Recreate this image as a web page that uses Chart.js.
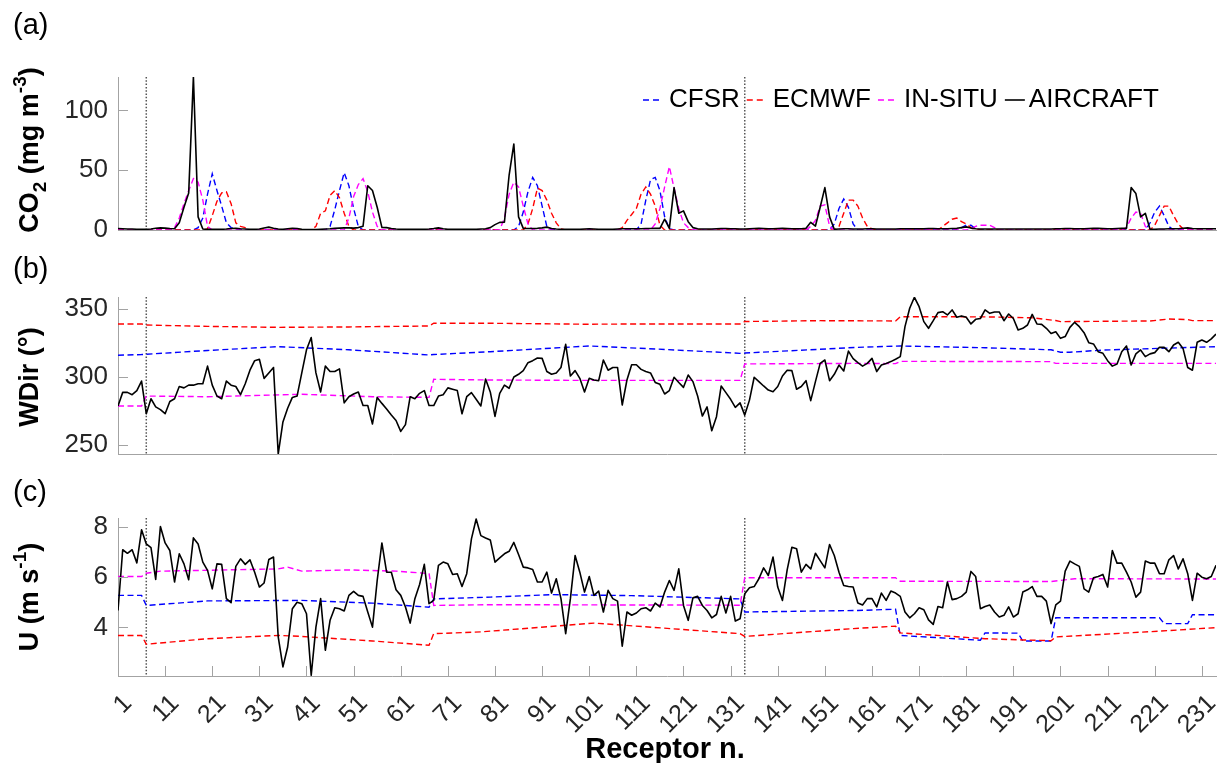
<!DOCTYPE html>
<html>
<head>
<meta charset="utf-8">
<script src="https://cdn.jsdelivr.net/npm/chart.js@4.4.1/dist/chart.umd.min.js"></script>
<style>
  html, body { margin: 0; padding: 0; background: #fff; }
  #wrap { position: relative; width: 1229px; height: 763px; overflow: hidden; }
  canvas { position: absolute; left: 0; }
</style>
</head>
<body>
<div id="wrap">
  <canvas id="co2" width="1229" height="240" style="top:0px"></canvas>
  <canvas id="wdir" width="1229" height="230" style="top:240px"></canvas>
  <canvas id="wind" width="1229" height="293" style="top:470px"></canvas>
</div>
<script>
// Three stacked panels: CO2, wind direction and wind speed per receptor.
// Model series are given as [receptor, value] break points, aircraft as one value per receptor.

const seriesNames = ["CFSR", "ECMWF", "IN-SITU", "AIRCRAFT"];
const receptorTicks = [1, 11, 21, 31, 41, 51, 61, 71, 81, 91, 101, 111, 121, 131, 141, 151, 161, 171, 181, 191, 201, 211, 221, 231];
const co2Ticks = [0, 50, 100];
const wdirTicks = [250, 300, 350];
const windTicks = [4, 6, 8];
const splitReceptors = [7, 134];

// (a) CO2 (mg m-3)
const co2Aircraft = [
  1.2, 1.0, 0.8, 0.8, 0.6, 0.6, 0.6, 0.8, 1.4, 1.8,
  1.6, 1.2, 1.0, 6, 19, 31, 128, 11, 0.8, 0.6,
  0.6, 0.6, 0.6, 0.8, 1.2, 1.4, 1.0, 0.8, 0.6, 0.6,
  0.8, 1.6, 2.4, 1.4, 0.8, 0.6, 1.0, 1.4, 1.2, 0.6,
  0.4, 0.4, 0.4, 0.6, 0.8, 1.0, 1.4, 1.6, 1.8, 1.8,
  1.6, 2.0, 3.2, 37, 33, 19, 2.2, 2.0, 1.2, 0.8,
  0.6, 0.6, 0.6, 0.6, 0.6, 0.6, 0.8, 1.2, 1.8, 1.0,
  0.6, 0.6, 0.6, 0.6, 0.6, 0.6, 0.6, 0.8, 1.0, 2.0,
  4.5, 6.4, 6.5, 46, 72, 11, 1.4, 1.2, 1.2, 1.4,
  1.8, 2.4, 1.2, 0.8, 0.6, 0.6, 0.6, 0.6, 0.6, 0.8,
  1.0, 0.8, 0.6, 0.6, 0.6, 0.6, 0.8, 1.0, 1.0, 1.0,
  1.0, 1.0, 1.2, 1.2, 1.4, 1.4, 9, 1.4, 35.5, 14,
  16, 7, 2, 1.0, 0.8, 0.8, 0.8, 1.0, 1.2, 1.2,
  1.0, 1.0, 0.8, 0.8, 1.0, 1.2, 1.4, 1.2, 1.0, 1.0,
  1.2, 1.4, 1.2, 1.0, 1.0, 1.0, 1.4, 6.4, 3.3, 19,
  35.5, 11, 0.6, 0.8, 1.0, 1.0, 0.8, 0.8, 0.8, 1.0,
  1.0, 0.8, 0.8, 0.8, 0.8, 0.8, 1.0, 1.0, 1.0, 1.0,
  1.0, 1.0, 1.2, 1.2, 1.0, 1.0, 1.0, 1.2, 1.4, 2.0,
  2.6, 1.6, 1.0, 0.8, 0.8, 0.8, 0.8, 0.8, 0.8, 0.8,
  0.8, 0.8, 0.8, 0.8, 0.8, 0.8, 0.8, 0.8, 0.8, 1.0,
  1.0, 1.2, 1.2, 1.0, 1.0, 1.0, 1.2, 1.4, 1.4, 1.2,
  1.0, 1.0, 1.2, 1.4, 1.4, 35.5, 30.5, 11, 14, 0.6,
  0.6, 0.8, 0.8, 1.0, 1.0, 1.0, 1.4, 1.8, 1.2, 1.0,
  1.0, 1.0, 1.0, 1.0
];
const co2Cfsr = [
  [1, 0], [17, 0], [18, 2], [19, 10], [20, 30], [21, 47], [22, 33], [23, 20], [24, 6], [25, 2], [26, 1], [27, 0],
  [45, 0], [46, 3], [47, 17], [48, 33], [49, 48], [50, 37], [51, 18], [52, 3], [53, 0],
  [85, 0], [86, 3], [87, 15], [88, 32], [89, 44], [90, 37], [91, 20], [92, 3], [93, 0],
  [111, 0], [112, 5], [113, 25], [114, 42], [115, 44], [116, 33], [117, 11], [118, 1], [119, 0],
  [152, 0], [153, 5], [154, 18], [155, 26], [156, 19], [157, 5], [158, 0],
  [179, 0], [180, 2], [181, 4], [182, 4], [183, 1], [184, 0],
  [219, 0], [220, 6], [221, 15], [222, 20], [223, 12], [224, 3], [225, 0], [234, 0]
];
const co2Ecmwf = [
  [1, 0], [19, 0], [20, 1], [21, 12], [22, 24], [23, 31], [24, 32], [25, 22], [26, 6], [27, 3], [28, 2], [29, 0],
  [42, 0], [43, 3], [44, 14], [45, 16], [46, 29], [47, 33], [48, 27], [49, 14], [50, 3], [51, 0],
  [87, 0], [88, 5], [89, 18], [90, 35], [91, 33], [92, 25], [93, 14], [94, 6], [95, 1], [96, 0],
  [107, 0], [108, 2], [109, 8], [110, 13], [111, 18], [112, 30], [113, 36], [114, 30], [115, 20], [116, 4], [117, 0],
  [153, 0], [154, 3], [155, 14], [156, 25], [157, 25], [158, 20], [159, 10], [160, 3], [161, 1], [162, 0],
  [175, 0], [176, 3], [177, 6], [178, 9], [179, 10], [180, 7], [181, 5], [182, 2], [183, 0],
  [220, 0], [221, 4], [222, 12], [223, 20], [224, 20], [225, 12], [226, 5], [227, 1], [228, 0], [234, 0]
];
const co2InSitu = [
  [1, 0], [12, 0], [13, 2], [14, 10], [15, 22], [16, 33], [17, 43], [18, 40], [19, 25], [20, 3], [21, 0],
  [49, 0], [50, 10], [51, 28], [52, 38], [53, 43], [54, 32], [55, 15], [56, 3], [57, 0],
  [82, 0], [83, 10], [84, 30], [85, 40], [86, 36], [87, 20], [88, 5], [89, 0],
  [114, 0], [115, 5], [116, 18], [117, 36], [118, 53], [119, 35], [120, 18], [121, 6], [122, 2], [123, 0],
  [147, 0], [148, 3], [149, 8], [150, 20], [151, 21], [152, 3], [153, 0],
  [181, 0], [182, 1], [183, 3], [184, 4], [185, 4], [186, 4], [187, 2], [188, 0],
  [214, 0], [215, 2], [216, 10], [217, 15], [218, 14], [219, 3], [220, 0], [234, 0]
];

// (b) WDir (deg)
const wdirAircraft = [
  278.7, 288.7, 288.7, 287, 290, 297, 273, 284, 278, 276,
  273, 282, 284, 293, 292, 294, 294, 295, 295, 308,
  294, 286, 284, 297, 294, 293, 287, 295, 305, 312,
  313, 299, 303, 307, 243.4, 267, 277, 285, 286, 303,
  320, 329, 303, 289, 308, 304, 304, 306, 281, 285.5,
  287.5, 289, 279, 279, 265.5, 285, 280.6, 276.5, 272, 268,
  260, 265, 285.5, 284, 288, 290, 279, 279, 286, 287,
  292, 291, 290, 273, 285.5, 288.5, 283.6, 278.7, 298.5, 289,
  271, 288, 294, 291.7, 300, 302, 304.7, 310.5, 312, 314,
  313.7, 304, 302, 303, 307, 324, 300.7, 304.7, 299, 289,
  299, 297.8, 297.3, 312.5, 305, 307, 307, 279.4, 297.8, 309,
  309, 305.6, 304, 303, 296, 294.6, 287.5, 290, 299.8, 296,
  292.4, 301.5, 296.6, 286, 271.3, 278, 260.5, 270.8, 293.4, 288.5,
  283.6, 277.7, 281, 272, 283, 299.8, 296.6, 293.4, 290.4, 289.2,
  293, 300.7, 305, 304.7, 291, 293, 297.3, 282.6, 296.6, 310,
  312.5, 297.3, 302, 308.8, 304.4, 319, 313.5, 310.5, 308, 310,
  313.7, 304, 308.8, 310, 311.3, 313, 315, 337, 350.5, 358.6,
  351.7, 340.7, 335.8, 341.4, 347.3, 348, 345.6, 349.3, 343.9, 344.9,
  343.9, 339, 342.4, 343, 349.3, 346.8, 347.8, 347.8, 341.4, 346.3,
  343, 334.6, 335.8, 338.2, 346, 339, 338.7, 335.8, 332, 333.3,
  328.4, 329.7, 336.5, 340.2, 337, 332.6, 325.2, 324.3, 318.6, 317.4,
  312, 308, 309.6, 318.6, 322.8, 308.8, 317, 319.9, 315, 317,
  317.9, 321.8, 321.8, 318.6, 323.5, 325.5, 321, 307, 305, 325.5,
  327.2, 325.5, 328, 331.6
];
const wdirCfsr = [
  [1, 316], [6, 316.5], [7, 316.7], [20, 319.5], [35, 322.3], [50, 320], [67, 316.2], [68, 316.5], [80, 318.6],
  [101, 322.8], [115, 320.6], [133, 317.4], [134, 317.6], [158, 321.8], [167, 322.8], [185, 321.5], [199, 320],
  [201, 318.2], [203, 318.2], [210, 319.8], [234, 322.3]
];
const wdirEcmwf = [
  [1, 339], [6, 339], [7, 338.2], [20, 337.2], [35, 336.5], [50, 336.8], [67, 337.5], [68, 339.5], [80, 339.5],
  [100, 338.8], [115, 339], [133, 339], [134, 340.8], [150, 341.4], [166, 341.2], [167, 344.3], [185, 344.2],
  [195, 343.5], [200, 341.5], [201, 340.7], [220, 341.2], [224, 342.6], [228, 342.2], [229, 341.4], [234, 341.4]
];
const wdirInSitu = [
  [1, 278.7], [6, 278.7], [7, 286], [20, 285.5], [40, 287.3], [55, 285.5], [67, 285], [68, 298.3], [80, 297.8],
  [100, 297.5], [133, 297.5], [134, 309.6], [158, 310], [166, 309.8], [167, 311.5], [199, 311.3], [200, 310], [234, 310]
];

// (c) U (m s-1)
const windAircraft = [
  4.67, 7.08, 6.94, 7.08, 6.56, 7.87, 7.31, 7.16, 5.9, 8.0,
  7.35, 7.05, 5.8, 6.92, 6.52, 5.89, 7.55, 7.31, 6.59, 6.26,
  5.53, 6.52, 6.5, 5.14, 4.98, 6.42, 6.72, 6.5, 6.68, 6.19,
  5.6, 5.76, 6.69, 6.79, 3.62, 2.43, 3.22, 4.74, 5.0, 4.94,
  4.54, 2.1, 4.01, 5.14, 3.09, 4.28, 4.78, 4.74, 4.65, 5.27,
  5.43, 5.27, 5.23, 4.61, 4.01, 5.86, 7.35, 6.19, 6.19, 5.49,
  5.27, 4.81, 4.17, 5.14, 5.7, 6.5, 4.94, 5.07, 6.46, 6.59,
  6.52, 6.1, 6.13, 5.62, 6.13, 7.51, 8.3, 7.64, 7.55, 7.47,
  6.59, 6.76, 6.92, 7.02, 7.37, 6.89, 6.39, 6.36, 6.3, 5.8,
  5.8, 6.19, 5.36, 5.93, 5.14, 3.75, 5.14, 6.85, 6.19, 5.4,
  6.02, 5.27, 5.44, 4.61, 5.47, 5.14, 5.04, 3.25, 4.61, 4.48,
  4.57, 4.74, 4.78, 4.65, 4.96, 4.81, 5.4, 5.86, 5.47, 6.32,
  4.87, 4.28, 5.17, 5.23, 4.87, 4.67, 4.38, 4.51, 5.23, 4.57,
  5.23, 4.25, 4.34, 5.33, 5.57, 5.62, 5.93, 6.36, 6.06, 6.79,
  5.6, 5.07, 6.28, 7.18, 7.12, 6.19, 6.5, 6.32, 6.94, 6.65,
  6.36, 7.29, 6.85, 6.19, 5.66, 5.62, 5.6, 4.97, 4.89, 5.14,
  5.14, 4.81, 5.36, 5.07, 5.44, 5.36, 5.23, 4.61, 4.38, 4.54,
  4.78, 4.7, 4.3, 4.12, 4.83, 4.78, 5.8, 5.1, 5.14, 5.23,
  5.4, 6.22, 6.02, 4.74, 4.83, 4.89, 4.61, 4.41, 4.48, 4.81,
  4.41, 4.54, 5.4, 5.49, 5.62, 5.23, 5.23, 5.04, 4.15, 4.89,
  5.04, 6.23, 6.63, 6.52, 6.42, 5.53, 5.4, 5.97, 6.02, 6.1,
  5.6, 7.05, 6.55, 6.55, 6.19, 5.8, 5.2, 5.4, 6.63, 6.55,
  6.55, 6.13, 6.13, 6.68, 6.85, 6.32, 6.72, 6.13, 5.07, 6.15,
  5.99, 5.93, 6.02, 6.46
];
const windCfsr = [
  [1, 5.27], [6, 5.27], [7, 4.87], [20, 5.05], [40, 5.07], [55, 4.96], [67, 4.8], [68, 5.13], [80, 5.2], [93, 5.3],
  [110, 5.26], [133, 5.13], [134, 4.61], [158, 4.67], [166, 4.72], [167, 3.68], [184, 3.49], [185, 3.78], [192, 3.77],
  [193, 3.46], [199, 3.46], [200, 4.38], [222, 4.38], [223, 4.15], [228, 4.15], [229, 4.5], [234, 4.5]
];
const windEcmwf = [
  [1, 3.68], [6, 3.68], [7, 3.33], [20, 3.55], [35, 3.68], [40, 3.64], [55, 3.46], [67, 3.29], [68, 3.75], [78, 3.82],
  [102, 4.17], [133, 3.75], [134, 3.64], [157, 3.95], [166, 4.05], [167, 3.78], [185, 3.55], [193, 3.5], [199, 3.47],
  [200, 3.62], [222, 3.85], [234, 3.99]
];
const windInSitu = [
  [1, 6.02], [6, 6.02], [7, 6.15], [10, 6.23], [35, 6.32], [37, 6.39], [40, 6.23], [50, 6.28], [60, 6.23], [66, 6.15],
  [67, 6.16], [68, 4.87], [80, 4.9], [133, 4.88], [134, 5.97], [166, 5.97], [167, 5.83], [199, 5.82], [204, 5.93], [234, 5.92]
];

const FONT = "'Liberation Sans', Arial, Helvetica, sans-serif";
const AXIS = "#a3a3a3";
const TEXT = "#262626";
const COLORS = { "CFSR": "#0000ff", "ECMWF": "#ff0000", "IN-SITU": "#ff00ff", "AIRCRAFT": "#000000" };
const DASH = [6, 3.5];

function modelSet(name, pairs, order) {
  return {
    label: name,
    data: pairs.map(([x, y]) => ({ x, y })),
    borderColor: COLORS[name], borderWidth: 1.4, borderDash: DASH,
    pointRadius: 0, fill: false, order
  };
}

function aircraftSet(values) {
  return {
    label: "AIRCRAFT",
    data: values.map((y, i) => ({ x: i + 1, y })),
    borderColor: COLORS.AIRCRAFT, borderWidth: 1.6, borderJoinStyle: "round",
    pointRadius: 0, fill: false, order: 0
  };
}

// draws rotated axis title with sub/superscript pieces
function drawRich(ctx, segs, baseX, centerY, size) {
  const fontFor = s => `bold ${(s.sub || s.sup) ? Math.round(size * 0.72) : size}px ${FONT}`;
  ctx.save();
  ctx.translate(baseX, centerY);
  ctx.rotate(-Math.PI / 2);
  ctx.fillStyle = "#000";
  ctx.textBaseline = "alphabetic";
  ctx.textAlign = "left";
  let total = 0;
  segs.forEach(s => { ctx.font = fontFor(s); total += ctx.measureText(s.t).width; });
  let cx = -total / 2;
  segs.forEach(s => {
    ctx.font = fontFor(s);
    const dy = s.sub ? size * 0.3 : s.sup ? -size * 0.45 : 0;
    ctx.fillText(s.t, cx, dy);
    cx += ctx.measureText(s.t).width;
  });
  ctx.restore();
}

function makeDecor(cfg) {
  return {
    id: "decor",
    beforeDatasetsDraw(chart) {
      const { ctx, chartArea: a, scales: { x } } = chart;
      ctx.save();
      ctx.strokeStyle = "#555";
      ctx.lineWidth = 1.5;
      ctx.setLineDash([1.5, 1.8]);
      splitReceptors.forEach(r => {
        const px = x.getPixelForValue(r);
        ctx.beginPath(); ctx.moveTo(px, a.top); ctx.lineTo(px, a.bottom); ctx.stroke();
      });
      ctx.restore();
    },
    afterDraw(chart) {
      const { ctx, chartArea: a, scales: { x, y } } = chart;
      ctx.save();
      ctx.strokeStyle = AXIS;
      ctx.lineWidth = 1;
      y.ticks.forEach(t => {
        const py = Math.round(y.getPixelForValue(t.value)) + 0.5;
        ctx.beginPath(); ctx.moveTo(a.left, py); ctx.lineTo(a.left + 10, py); ctx.stroke();
      });
      if (cfg.xLabels) {
        x.ticks.forEach(t => {
          const px = Math.round(x.getPixelForValue(t.value)) + 0.5;
          ctx.beginPath(); ctx.moveTo(px, a.bottom); ctx.lineTo(px, a.bottom - 10); ctx.stroke();
        });
        ctx.fillStyle = "#000";
        ctx.font = `bold 29px ${FONT}`;
        ctx.textAlign = "center";
        ctx.textBaseline = "alphabetic";
        ctx.fillText("Receptor n.", 665, cfg.xTitleY);
      }
      ctx.fillStyle = "#000";
      ctx.font = `29px ${FONT}`;
      ctx.textAlign = "left";
      ctx.textBaseline = "alphabetic";
      ctx.fillText(cfg.letter, 13, cfg.letterY);
      ctx.restore();

      drawRich(ctx, cfg.title, 38, cfg.titleY, cfg.titleSize);

      if (cfg.legend) {
        ctx.save();
        ctx.font = `26px ${FONT}`;
        ctx.textBaseline = "middle";
        ctx.textAlign = "left";
        let lx = 643;
        const ly = 100;
        seriesNames.forEach(name => {
          const solid = name === "AIRCRAFT";
          const len = solid ? 20 : 17;
          ctx.strokeStyle = COLORS[name];
          ctx.lineWidth = solid ? 1.6 : 1.4;
          ctx.setLineDash(solid ? [] : [6, 4]);
          ctx.beginPath(); ctx.moveTo(lx, ly); ctx.lineTo(lx + len, ly); ctx.stroke();
          const tx = lx + (solid ? 24 : 26);
          ctx.fillStyle = "#000";
          ctx.fillText(name, tx, ly);
          lx = tx + ctx.measureText(name).width + 7;
        });
        ctx.restore();
      }
    }
  };
}

function makePanel(id, cfg, datasets) {
  return new Chart(document.getElementById(id), {
    type: "line",
    data: { datasets },
    options: {
      responsive: false,
      animation: false,
      devicePixelRatio: 1,
      layout: { padding: { top: cfg.padTop, right: 13, left: 0, bottom: 0 } },
      plugins: { legend: { display: false }, tooltip: { enabled: false } },
      elements: { point: { radius: 0 }, line: { tension: 0 } },
      scales: {
        x: {
          type: "linear", min: 1, max: 234,
          afterBuildTicks: s => { s.ticks = receptorTicks.map(v => ({ value: v })); },
          grid: { display: false, drawTicks: false },
          border: { display: true, color: AXIS, width: 1 },
          ticks: {
            display: cfg.xLabels, autoSkip: false, minRotation: 45, maxRotation: 45,
            padding: 13, labelOffset: 10, color: TEXT, font: { family: FONT, size: 25 },
            callback: v => String(v)
          },
          afterFit: s => { s.height = cfg.xHeight; s.paddingLeft = 0; s.paddingRight = 0; }
        },
        y: {
          type: "linear", min: cfg.yMin, max: cfg.yMax,
          afterBuildTicks: s => { s.ticks = cfg.yTicks.map(v => ({ value: v })); },
          grid: { display: false, drawTicks: false },
          border: { display: true, color: AXIS, width: 1 },
          ticks: { color: TEXT, font: { family: FONT, size: 26 }, padding: 10, callback: v => String(v) },
          afterFit: s => { s.width = 118; s.paddingTop = 0; s.paddingBottom = 0; }
        }
      }
    },
    plugins: [makeDecor(cfg)]
  });
}

makePanel("co2", {
  padTop: 77, xHeight: 10, xLabels: false, yMin: 0, yMax: 128, yTicks: co2Ticks,
  letter: "(a)", letterY: 34, titleY: 150, titleSize: 27, legend: true,
  title: [{ t: "CO" }, { t: "2", sub: true }, { t: " (mg m" }, { t: "-3", sup: true }, { t: ")" }]
}, [
  aircraftSet(co2Aircraft),
  modelSet("IN-SITU", co2InSitu, 1),
  modelSet("ECMWF", co2Ecmwf, 2),
  modelSet("CFSR", co2Cfsr, 3)
]);

makePanel("wdir", {
  padTop: 57, xHeight: 16, xLabels: false, yMin: 243.4, yMax: 358.8, yTicks: wdirTicks,
  letter: "(b)", letterY: 38, titleY: 137, titleSize: 27,
  title: [{ t: "WDir (°)" }]
}, [
  aircraftSet(wdirAircraft),
  modelSet("IN-SITU", wdirInSitu, 1),
  modelSet("ECMWF", wdirEcmwf, 2),
  modelSet("CFSR", wdirCfsr, 3)
]);

makePanel("wind", {
  padTop: 48, xHeight: 87, xLabels: true, yMin: 2.07, yMax: 8.34, yTicks: windTicks,
  letter: "(c)", letterY: 31, titleY: 127, titleSize: 27, xTitleY: 288,
  title: [{ t: "U (m s" }, { t: "-1", sup: true }, { t: ")" }]
}, [
  aircraftSet(windAircraft),
  modelSet("IN-SITU", windInSitu, 1),
  modelSet("ECMWF", windEcmwf, 2),
  modelSet("CFSR", windCfsr, 3)
]);
</script>
</body>
</html>
